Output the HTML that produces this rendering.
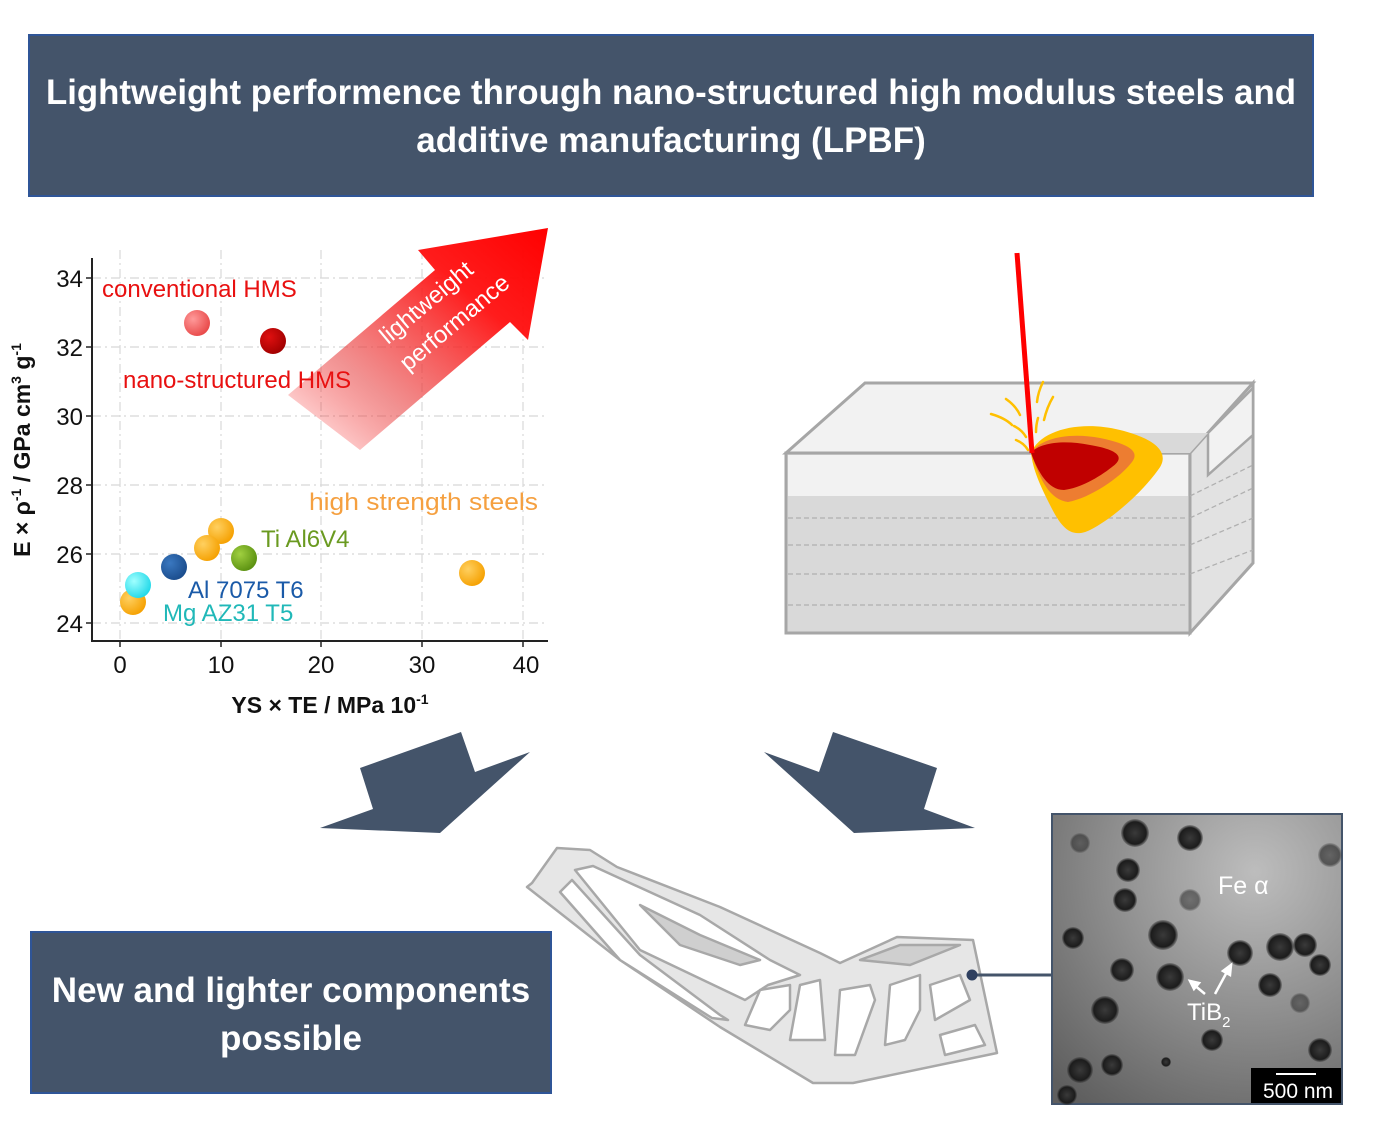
<!DOCTYPE html>
<html><head><meta charset="utf-8"><style>
html,body{margin:0;padding:0;background:#fff;}
body{width:1378px;height:1122px;position:relative;overflow:hidden;font-family:"Liberation Sans",sans-serif;}
</style></head><body>
<svg width="1378" height="1122" viewBox="0 0 1378 1122" xmlns="http://www.w3.org/2000/svg" style="position:absolute;left:0;top:0">
<defs>
<linearGradient id="ag" x1="0" y1="1" x2="1" y2="0">
<stop offset="0" stop-color="#ff0000" stop-opacity="0"/>
<stop offset="0.3" stop-color="#e84a4a" stop-opacity="0.6"/>
<stop offset="0.7" stop-color="#ff1010" stop-opacity="0.95"/>
<stop offset="1" stop-color="#ff0000"/>
</linearGradient>
<radialGradient id="tem" cx="0.7" cy="0.2" r="1">
<stop offset="0" stop-color="#bdbdbd"/><stop offset="0.5" stop-color="#8e8e8e"/><stop offset="1" stop-color="#5e5e5e"/>
</radialGradient>
<radialGradient id="b1" cx="0.35" cy="0.35" r="0.7"><stop offset="0" stop-color="#ff9a9a"/><stop offset="1" stop-color="#e84848"/></radialGradient>
<radialGradient id="b2" cx="0.35" cy="0.35" r="0.7"><stop offset="0" stop-color="#e01010"/><stop offset="1" stop-color="#a00000"/></radialGradient>
<radialGradient id="b3" cx="0.35" cy="0.35" r="0.7"><stop offset="0" stop-color="#ffd060"/><stop offset="1" stop-color="#f5a000"/></radialGradient>
<radialGradient id="b4" cx="0.35" cy="0.35" r="0.7"><stop offset="0" stop-color="#a0d040"/><stop offset="1" stop-color="#5a9010"/></radialGradient>
<radialGradient id="b5" cx="0.35" cy="0.35" r="0.7"><stop offset="0" stop-color="#3a78c0"/><stop offset="1" stop-color="#1a4c8c"/></radialGradient>
<radialGradient id="b6" cx="0.35" cy="0.35" r="0.7"><stop offset="0" stop-color="#a0ffff"/><stop offset="1" stop-color="#20d8e8"/></radialGradient>
<radialGradient id="blob" cx="0.5" cy="0.5" r="0.5"><stop offset="0" stop-color="#3a3a3a"/><stop offset="0.8" stop-color="#1c1c1c"/><stop offset="1" stop-color="#333" stop-opacity="0.3"/></radialGradient>
</defs>

<rect x="29" y="35" width="1284" height="161" fill="#44546a" stroke="#2f5597" stroke-width="2"/>
<text x="671" y="104" text-anchor="middle" fill="#fff" font-size="35" font-weight="bold" textLength="1250" lengthAdjust="spacingAndGlyphs">Lightweight performence through nano-structured high modulus steels and</text>
<text x="671" y="152" text-anchor="middle" fill="#fff" font-size="35" font-weight="bold">additive manufacturing (LPBF)</text>

<g stroke="#d8d8d8" stroke-width="1.2" stroke-dasharray="9,4,2,4">
<line x1="120" y1="250" x2="120" y2="640"/><line x1="221" y1="250" x2="221" y2="640"/>
<line x1="321" y1="250" x2="321" y2="640"/><line x1="422" y1="250" x2="422" y2="640"/><line x1="523" y1="250" x2="523" y2="640"/>
<line x1="92" y1="278" x2="548" y2="278"/><line x1="92" y1="347" x2="548" y2="347"/><line x1="92" y1="416" x2="548" y2="416"/>
<line x1="92" y1="485" x2="548" y2="485"/><line x1="92" y1="554" x2="548" y2="554"/><line x1="92" y1="623" x2="548" y2="623"/>
</g>
<g stroke="#222" stroke-width="2" fill="none">
<line x1="92" y1="258" x2="92" y2="641"/><line x1="91" y1="641" x2="548" y2="641"/>
</g>
<g stroke="#222" stroke-width="1.5">
<line x1="86" y1="278" x2="92" y2="278"/><line x1="86" y1="347" x2="92" y2="347"/><line x1="86" y1="416" x2="92" y2="416"/>
<line x1="86" y1="485" x2="92" y2="485"/><line x1="86" y1="554" x2="92" y2="554"/><line x1="86" y1="623" x2="92" y2="623"/>
<line x1="120" y1="641" x2="120" y2="647"/><line x1="221" y1="641" x2="221" y2="647"/><line x1="321" y1="641" x2="321" y2="647"/>
<line x1="422" y1="641" x2="422" y2="647"/><line x1="523" y1="641" x2="523" y2="647"/>
</g>
<g font-size="24" fill="#111" text-anchor="end">
<text x="83" y="287">34</text><text x="83" y="356">32</text><text x="83" y="425">30</text>
<text x="83" y="494">28</text><text x="83" y="563">26</text><text x="83" y="632">24</text>
</g>
<g font-size="24" fill="#111" text-anchor="middle">
<text x="120" y="673">0</text><text x="221" y="673">10</text><text x="321" y="673">20</text><text x="422" y="673">30</text><text x="526" y="673">40</text>
</g>
<text x="330" y="713" text-anchor="middle" font-size="23" font-weight="bold" fill="#111">YS × TE / MPa 10<tspan font-size="14" dy="-9">-1</tspan></text>
<text transform="translate(30,450) rotate(-90)" text-anchor="middle" font-size="23" font-weight="bold" fill="#111">E × ρ<tspan font-size="14" dy="-9">-1</tspan><tspan dy="9"> / GPa cm</tspan><tspan font-size="14" dy="-9">3</tspan><tspan dy="9"> g</tspan><tspan font-size="14" dy="-9">-1</tspan></text>

<polygon points="288,395 435,270 418,250 548,228 528,340 510,322 360,450" fill="url(#ag)"/>
<text transform="translate(388,345) rotate(-40)" fill="#fff" font-size="24">lightweight</text>
<text transform="translate(408,372) rotate(-40)" fill="#fff" font-size="24">performance</text>

<text x="102" y="297" fill="#e81010" font-size="24">conventional HMS</text>
<text x="123" y="388" fill="#e81010" font-size="24">nano-structured HMS</text>
<text x="309" y="510" fill="#f5a040" font-size="24" textLength="229" lengthAdjust="spacingAndGlyphs">high strength steels</text>
<text x="261" y="547" fill="#6a9a20" font-size="24">Ti Al6V4</text>
<text x="188" y="598" fill="#1a5aa8" font-size="24">Al 7075 T6</text>
<text x="163" y="621" fill="#20b8b8" font-size="24">Mg AZ31 T5</text>

<g>
<circle cx="197" cy="323" r="13" fill="url(#b1)"/>
<circle cx="273" cy="341" r="13" fill="url(#b2)"/>
<circle cx="221" cy="531" r="13" fill="url(#b3)"/>
<circle cx="207" cy="548" r="13" fill="url(#b3)"/>
<circle cx="244" cy="558" r="13" fill="url(#b4)"/>
<circle cx="174" cy="567" r="13" fill="url(#b5)"/>
<circle cx="472" cy="573" r="13" fill="url(#b3)"/>
<circle cx="133" cy="602" r="13" fill="url(#b3)"/>
<circle cx="138" cy="585" r="13" fill="url(#b6)"/>
</g>

<polygon points="786,453 865,383 1253,383 1190,453" fill="#f2f2f2" stroke="#a6a6a6" stroke-width="3"/>
<polygon points="1190,453 1253,383 1253,563 1190,633" fill="#e2e2e2" stroke="#a6a6a6" stroke-width="3"/>
<rect x="786" y="453" width="404" height="180" fill="#d9d9d9" stroke="#a6a6a6" stroke-width="3"/>
<rect x="788" y="455" width="400" height="41" fill="#f2f2f2"/>
<polygon points="1208,433 1253,388 1253,435 1208,475" fill="#f2f2f2" stroke="#a6a6a6" stroke-width="2.5"/>
<polygon points="1130,433 1208,433 1190,453 1110,453" fill="#d9d9d9"/>
<g stroke="#b0b0b0" stroke-width="1.3" stroke-dasharray="5,3" fill="none">
<line x1="788" y1="518" x2="1188" y2="518"/><line x1="788" y1="545" x2="1188" y2="545"/>
<line x1="788" y1="574" x2="1188" y2="574"/><line x1="788" y1="605" x2="1188" y2="605"/>
<line x1="1190" y1="496" x2="1253" y2="465"/><line x1="1190" y1="518" x2="1253" y2="488"/>
<line x1="1190" y1="545" x2="1253" y2="518"/><line x1="1190" y1="574" x2="1253" y2="550"/>
</g>
<path d="M1031,453 C1040,430 1080,420 1120,430 C1160,440 1170,455 1158,470 C1140,495 1110,520 1090,530 C1070,540 1060,525 1050,505 C1040,485 1033,470 1031,453 Z" fill="#ffc000"/>
<path d="M1031,453 C1040,438 1070,432 1100,438 C1130,444 1140,452 1132,462 C1120,478 1090,498 1068,502 C1050,500 1040,480 1031,453 Z" fill="#ed7d31"/>
<path d="M1031,453 C1040,442 1065,440 1090,445 C1120,450 1125,458 1112,467 C1098,478 1080,488 1064,490 C1048,490 1038,472 1031,453 Z" fill="#c00000"/>
<line x1="1017" y1="253" x2="1032" y2="453" stroke="#ff0000" stroke-width="5"/>
<g stroke="#ffc000" stroke-width="2.5" fill="none" stroke-linecap="round">
<path d="M991,414 Q1005,418 1012,425"/><path d="M1006,399 Q1016,406 1020,415"/>
<path d="M1014,426 Q1022,430 1026,437"/><path d="M1016,440 Q1024,443 1028,450"/>
<path d="M1043,382 Q1038,392 1037,402"/><path d="M1053,397 Q1047,407 1044,420"/>
<path d="M1038,418 Q1036,425 1036,432"/>
</g>

<polygon points="360,768 461,732 475,772 530,752 440,833 320,828 373,809" fill="#44546a"/>
<polygon points="764,752 819,772 833,732 937,768 924,809 975,828 854,833" fill="#44546a"/>

<g stroke="#a8a8a8" stroke-width="2.5" stroke-linejoin="round">
<polygon points="532,883 557,848 590,850 617,867 720,907 820,953 840,963 897,937 973,940 997,1053 853,1083 813,1083 720,1027 620,960 527,887" fill="#e6e6e6"/>
<polygon points="575,870 593,866 700,915 770,960 800,975 768,985 745,1000 640,950" fill="#fff"/>
<polygon points="572,880 640,955 720,1015 728,1020 712,1018 620,960 560,892" fill="#fff"/>
<polygon points="760,990 790,985 790,1010 770,1030 745,1025" fill="#fff"/>
<polygon points="800,985 820,980 825,1040 790,1040" fill="#fff"/>
<polygon points="840,990 870,985 875,1000 855,1055 835,1055" fill="#fff"/>
<polygon points="890,985 920,975 920,1010 905,1040 885,1045" fill="#fff"/>
<polygon points="930,985 960,975 970,1000 935,1020" fill="#fff"/>
<polygon points="940,1035 975,1025 985,1045 945,1055" fill="#fff"/>
<polygon points="860,960 900,945 960,945 910,965" fill="#cfcfcf"/>
<polygon points="640,905 700,935 760,960 740,965 680,945" fill="#cfcfcf"/>
</g>
<line x1="972" y1="975" x2="1051" y2="975" stroke="#44546a" stroke-width="3"/>
<circle cx="972" cy="975" r="5.5" fill="#2f4060"/>

<rect x="1052" y="814" width="290" height="290" fill="url(#tem)" stroke="#44546a" stroke-width="2"/>
<g fill="url(#blob)">
<circle cx="1135" cy="833" r="14"/><circle cx="1190" cy="838" r="13"/><circle cx="1128" cy="870" r="12"/>
<circle cx="1125" cy="900" r="12"/><circle cx="1073" cy="938" r="11"/><circle cx="1163" cy="935" r="15"/>
<circle cx="1122" cy="970" r="12"/><circle cx="1170" cy="977" r="14"/><circle cx="1240" cy="953" r="13"/>
<circle cx="1280" cy="947" r="14"/><circle cx="1305" cy="945" r="12"/><circle cx="1320" cy="965" r="11"/>
<circle cx="1270" cy="985" r="12"/><circle cx="1105" cy="1010" r="14"/><circle cx="1212" cy="1040" r="11"/>
<circle cx="1080" cy="1070" r="13"/><circle cx="1112" cy="1065" r="11"/><circle cx="1320" cy="1050" r="12"/>
<circle cx="1330" cy="855" r="12" opacity="0.6"/><circle cx="1190" cy="900" r="11" opacity="0.5"/>
<circle cx="1067" cy="1095" r="10"/><circle cx="1166" cy="1062" r="5"/>
<circle cx="1300" cy="1003" r="10" opacity="0.5"/><circle cx="1080" cy="843" r="10" opacity="0.5"/>
</g>
<text x="1218" y="894" fill="#fff" font-size="25">Fe α</text>
<text x="1187" y="1020" fill="#fff" font-size="24">TiB<tspan font-size="15" dy="7">2</tspan></text>
<g stroke="#fff" stroke-width="2.5" fill="#fff">
<line x1="1205" y1="994" x2="1193" y2="984"/><polygon points="1190,981 1199,983 1194,989"/>
<line x1="1215" y1="994" x2="1228" y2="970"/><polygon points="1231,965 1230,975 1223,971"/>
</g>
<rect x="1251" y="1068" width="90" height="35" fill="#000"/>
<line x1="1276" y1="1074" x2="1316" y2="1074" stroke="#fff" stroke-width="2"/>
<text x="1298" y="1098" fill="#fff" font-size="21" text-anchor="middle">500 nm</text>

<rect x="31" y="932" width="520" height="161" fill="#44546a" stroke="#2f5597" stroke-width="2"/>
<text x="291" y="1002" text-anchor="middle" fill="#fff" font-size="35" font-weight="bold">New and lighter components</text>
<text x="291" y="1050" text-anchor="middle" fill="#fff" font-size="35" font-weight="bold">possible</text>
</svg>
</body></html>
